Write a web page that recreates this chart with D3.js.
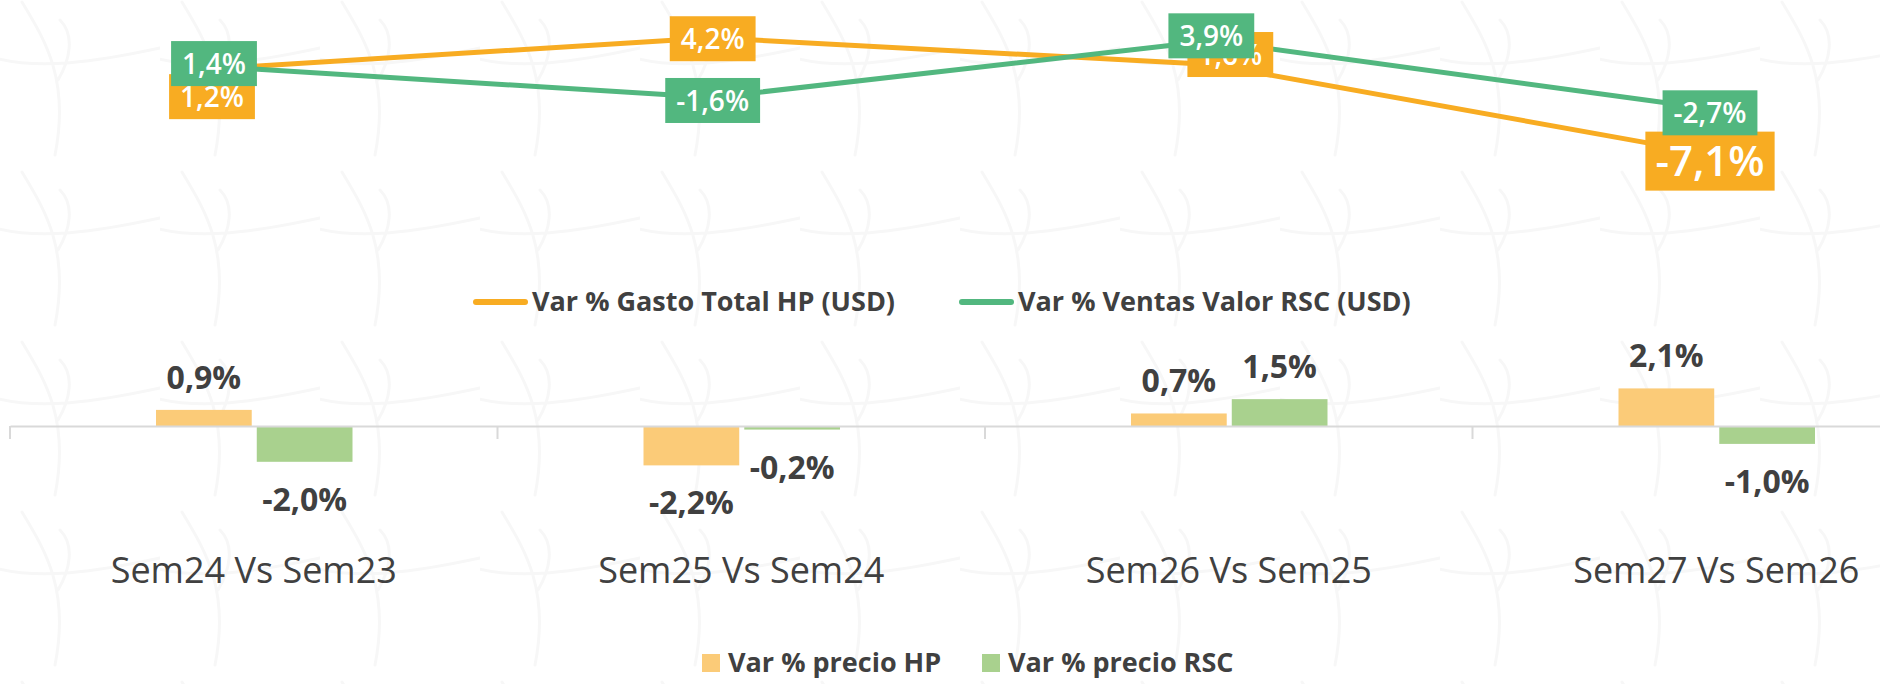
<!DOCTYPE html>
<html>
<head>
<meta charset="utf-8">
<script src="https://cdn.jsdelivr.net/npm/d3@7"></script>
<style>
  html, body { margin: 0; padding: 0; background: #fff; }
  svg { display: block; font-family: "Open Sans", "Noto Sans", sans-serif; }
</style>
</head>
<body>
<div id="viz"></div>
<script>
// categories
const weeks = ["Sem24 Vs Sem23", "Sem25 Vs Sem24", "Sem26 Vs Sem25", "Sem27 Vs Sem26"];

// line series (top chart)
const gastoHP = [1.2, 4.2, 1.6, -7.1];
const ventasRSC = [1.4, -1.6, 3.9, -2.7];

// bar series (bottom chart)
const precioHP = [0.9, -2.2, 0.7, 2.1];
const precioRSC = [-2.0, -0.2, 1.5, -1.0];

const lineNames = ["Var % Gasto Total HP (USD)", "Var % Ventas Valor RSC (USD)"];
const barNames = ["Var % precio HP", "Var % precio RSC"];

const width = 1880;
const height = 684;

const fmt = v => d3.format(".1f")(v).replace("−", "-").replace(".", ",") + "%";
const textColor = "#404040";

const svg = d3.select("#viz")
    .append("svg")
    .attr("width", width)
    .attr("height", height)
    .attr("viewBox", `0 0 ${width} ${height}`);

// faint decorative background pattern
const pat = svg.append("defs").append("pattern")
    .attr("id", "bg")
    .attr("patternUnits", "userSpaceOnUse")
    .attr("width", 160).attr("height", 170);
pat.append("path")
    .attr("d", "M22,2 C45,40 70,80 55,155 M-5,58 C40,70 95,62 160,48 M60,20 C75,35 70,60 58,80")
    .attr("fill", "none")
    .attr("stroke", "#f7f7f7")
    .attr("stroke-width", 3)
    .attr("stroke-linecap", "round");
svg.append("rect")
    .attr("width", width).attr("height", height)
    .attr("fill", "url(#bg)");

// ---------- top: line chart ----------
const lineColors = ["#F8AC22", "#52B77F"];
// nudges of the label boxes relative to their point
const labelNudge = [
    [[-2, 28], [0, 1], [19, -10], [0, 7]],
    [[0, -3], [0, 3], [0, -5], [0, 4]]
];

const xLine = d3.scalePoint()
    .domain(weeks)
    .range([214, 1710]);

const yLine = d3.scaleLinear()
    .domain([-8, 6])
    .range([81 + 8 * 10.3, 81 - 6 * 10.3]);

const lineGen = d3.line()
    .x((d, i) => xLine(weeks[i]))
    .y(d => yLine(d));

const lineSeries = [gastoHP, ventasRSC];

const gLine = svg.append("g");
lineSeries.forEach((s, k) => {
    gLine.append("path")
        .datum(s)
        .attr("d", lineGen)
        .attr("fill", "none")
        .attr("stroke", lineColors[k])
        .attr("stroke-width", 5)
        .attr("stroke-linejoin", "round");
});

lineSeries.forEach((s, k) => {
    s.forEach((v, i) => {
        const big = (k === 0 && i === 3);
        const fs = big ? 42 : 28;
        const bh = big ? 59 : 45;
        const cx = xLine(weeks[i]) + labelNudge[k][i][0];
        const cy = yLine(v) + labelNudge[k][i][1];
        const g = gLine.append("g");
        const rect = g.append("rect").attr("fill", lineColors[k]);
        const t = g.append("text")
            .attr("x", cx)
            .attr("y", cy + fs * 0.36)
            .attr("text-anchor", "middle")
            .attr("fill", "#fff")
            .attr("font-size", fs)
            .attr("font-weight", 600)
            .text(fmt(v));
        const tw = t.node().getComputedTextLength();
        const bw = tw + (big ? 20 : 22);
        rect.attr("x", cx - bw / 2)
            .attr("y", cy - bh / 2)
            .attr("width", bw)
            .attr("height", bh);
    });
});

// line legend
const lineLegend = svg.append("g");
const lineLegX = [473, 959];
lineNames.forEach((n, k) => {
    lineLegend.append("line")
        .attr("x1", lineLegX[k] + 3).attr("x2", lineLegX[k] + 52)
        .attr("y1", 302).attr("y2", 302)
        .attr("stroke", lineColors[k])
        .attr("stroke-width", 6)
        .attr("stroke-linecap", "round");
    lineLegend.append("text")
        .attr("x", lineLegX[k] + 59)
        .attr("y", 311)
        .attr("fill", textColor)
        .attr("font-size", 27)
        .attr("font-weight", 700)
        .text(n);
});

// ---------- bottom: bar chart ----------
const barColors = ["#FBCB78", "#A9D18E"];
const barSeries = [precioHP, precioRSC];

const xBar = d3.scaleBand()
    .domain(weeks)
    .range([10, 1960]);

const xSub = d3.scaleBand()
    .domain([0, 1])
    .range([146, 342.5])
    .paddingInner(0.05);

const yBar = d3.scaleLinear()
    .domain([-3, 3])
    .range([426 + 3 * 17.9, 426 - 3 * 17.9]);

const gBar = svg.append("g");

barSeries.forEach((s, k) => {
    gBar.selectAll(`.bar${k}`)
        .data(s)
        .enter().append("rect")
            .attr("x", (d, i) => xBar(weeks[i]) + xSub(k))
            .attr("y", d => yBar(Math.max(0, d)))
            .attr("width", xSub.bandwidth())
            .attr("height", d => Math.abs(yBar(d) - yBar(0)))
            .attr("fill", barColors[k]);

    gBar.selectAll(`.lab${k}`)
        .data(s)
        .enter().append("text")
            .attr("x", (d, i) => xBar(weeks[i]) + xSub(k) + xSub.bandwidth() / 2)
            .attr("y", d => d >= 0 ? yBar(d) - 21 : yBar(d) + 49)
            .attr("text-anchor", "middle")
            .attr("fill", textColor)
            .attr("font-size", 32)
            .attr("font-weight", 700)
            .text(d => fmt(d));
});

// axis: zero line + tick marks + category labels
const axis = d3.axisBottom(xBar)
    .tickSize(0)
    .tickPadding(0);
const gAxis = gBar.append("g")
    .attr("transform", `translate(0, ${yBar(0)})`)
    .call(axis);
gAxis.select(".domain")
    .attr("stroke", "#D9D9D9")
    .attr("stroke-width", 2);
gAxis.selectAll(".tick text")
    .attr("y", 157)
    .attr("dy", 0)
    .attr("fill", textColor)
    .attr("font-size", 36)
    .attr("font-family", "Open Sans, sans-serif");
gAxis.selectAll(".tick").append("line")
    .attr("x1", -xBar.bandwidth() / 2).attr("x2", -xBar.bandwidth() / 2)
    .attr("y1", 0).attr("y2", 13)
    .attr("stroke", "#D9D9D9")
    .attr("stroke-width", 2);

// bar legend
const barLegend = svg.append("g");
const barLegX = [702, 982];
barNames.forEach((n, k) => {
    barLegend.append("rect")
        .attr("x", barLegX[k]).attr("y", 654)
        .attr("width", 18).attr("height", 18)
        .attr("fill", barColors[k]);
    barLegend.append("text")
        .attr("x", barLegX[k] + 26)
        .attr("y", 672)
        .attr("fill", textColor)
        .attr("font-size", 27)
        .attr("font-weight", 700)
        .text(n);
});
</script>
</body>
</html>
